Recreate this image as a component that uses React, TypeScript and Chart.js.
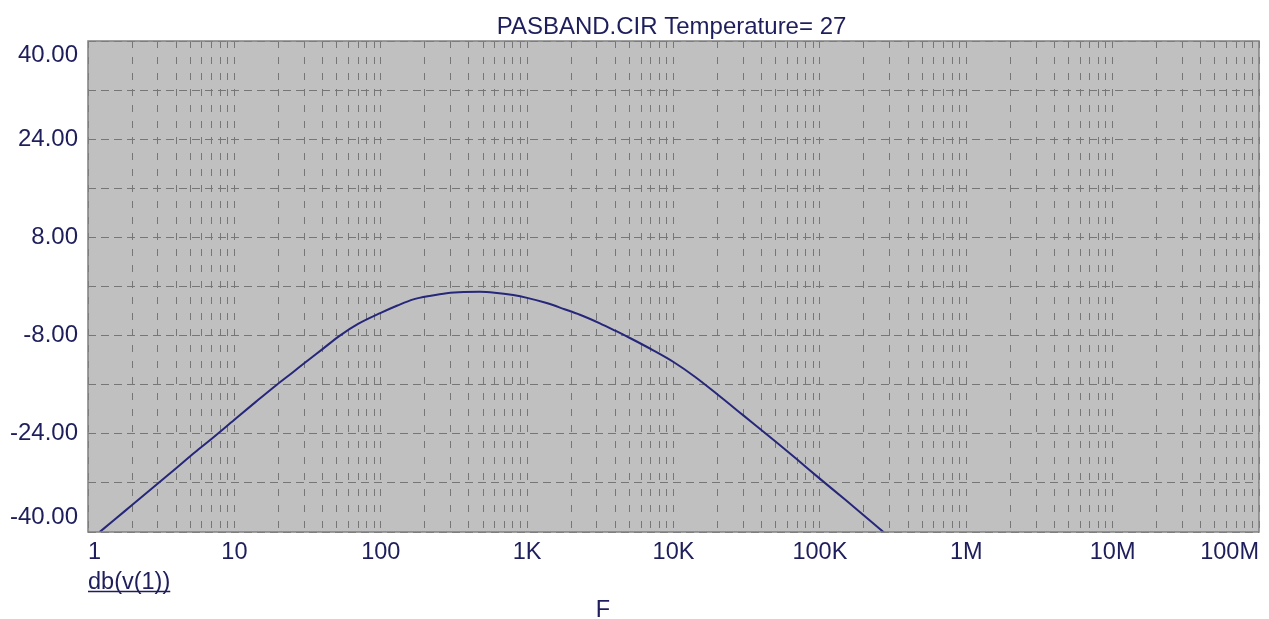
import React, { useEffect, useRef } from 'react';
import { Chart, registerables } from 'chart.js';

Chart.register(...registerables);

// ---- data (frequency in Hz, gain in dB) ----
const freqHz = [
  1.2, 1.5, 2, 3, 4, 5.38, 7, 10, 14, 19.5, 25, 30, 40, 52.6, 70, 100, 130, 167, 220, 282, 370, 476, 600, 804,
  1000, 1359, 1800, 2294, 3142, 4000, 5000, 7266, 10000, 14000, 20000, 30000, 50000, 70000, 97500, 150000,
  200000, 257000, 290000,
];
const gainDb = [
  -40.0, -38.1, -35.6, -32.1, -29.6, -27.0, -24.8, -21.7, -18.8, -16.0, -14.0, -12.5, -10.2, -8.0, -6.1, -4.3,
  -3.1, -2.1, -1.5, -1.1, -0.9, -0.85, -1.0, -1.4, -1.85, -2.7, -3.7, -4.6, -6.0, -7.2, -8.35, -10.4, -12.3,
  -14.7, -17.6, -21.0, -25.3, -28.2, -31.1, -34.8, -37.3, -39.5, -40.6,
];

const xDecades = [1, 10, 100, 1e3, 1e4, 1e5, 1e6, 1e7, 1e8];
const xDecadeLabels = ['1', '10', '100', '1K', '10K', '100K', '1M', '10M', '100M'];
const yMin = -40;
const yMax = 40;
const yGridStep = 8;
const yLabelStep = 16;

const titleText = 'PASBAND.CIR Temperature= 27';
const traceLabel = 'db(v(1))';
const xAxisName = 'F';

// ---- styles ----
const TEXT = '#1e1e5c';
const GRID = '#767676';
const PLOT_BG = '#c0c0c0';
const FRAME = '#808080';
const TRACE = '#26267a';
const FONT = '"Liberation Sans", Arial, sans-serif';

function buildXTicks(): number[] {
  const out: number[] = [1];
  for (let d = 0; d < xDecades.length - 1; d++) {
    for (let m = 2; m <= 10; m++) out.push(m * xDecades[d]);
  }
  return out;
}

const decorPlugin = {
  id: 'decor',
  beforeDraw(chart: any) {
    const { ctx, chartArea: a } = chart;
    ctx.save();
    ctx.fillStyle = '#ffffff';
    ctx.fillRect(0, 0, chart.width, chart.height);
    ctx.fillStyle = PLOT_BG;
    ctx.fillRect(a.left, a.top, a.right - a.left, a.bottom - a.top);
    ctx.restore();
  },
  afterDraw(chart: any) {
    const { ctx, chartArea: a } = chart;
    ctx.save();
    ctx.strokeStyle = FRAME;
    ctx.lineWidth = 1.5;
    ctx.strokeRect(a.left, a.top, a.right - a.left, a.bottom - a.top);

    ctx.fillStyle = TEXT;
    ctx.font = `24px ${FONT}`;
    ctx.textAlign = 'center';
    ctx.textBaseline = 'alphabetic';
    ctx.fillText(titleText, (a.left + a.right) / 2 - 2, 33.5);

    ctx.font = `23.5px ${FONT}`;
    ctx.textAlign = 'left';
    ctx.fillText(traceLabel, a.left, 589);
    const w = ctx.measureText(traceLabel).width;
    ctx.strokeStyle = TEXT;
    ctx.lineWidth = 1.5;
    ctx.beginPath();
    ctx.moveTo(a.left, 591.5);
    ctx.lineTo(a.left + w, 591.5);
    ctx.stroke();

    ctx.textAlign = 'center';
    ctx.fillText(xAxisName, 603, 617);
    ctx.restore();
  },
};

export default function App() {
  const ref = useRef<HTMLCanvasElement | null>(null);

  useEffect(() => {
    if (!ref.current) return;
    const xTicks = buildXTicks();
    const chart = new Chart(ref.current, {
      type: 'line',
      data: {
        datasets: [
          {
            data: freqHz.map((f, i) => ({ x: f, y: gainDb[i] })),
            borderColor: TRACE,
            borderWidth: 2,
            pointRadius: 0,
            cubicInterpolationMode: 'monotone',
            fill: false,
          },
        ],
      },
      options: {
        animation: false,
        responsive: false,
        layout: { padding: { top: 41, right: 10, left: 0, bottom: 0 } },
        plugins: { legend: { display: false }, title: { display: false }, tooltip: { enabled: false } },
        scales: {
          x: {
            type: 'logarithmic',
            min: 1,
            max: 1e8,
            afterBuildTicks: (scale: any) => {
              scale.ticks = xTicks.map((v) => ({ value: v }));
            },
            afterFit: (scale: any) => {
              scale.height = 87;
            },
            grid: { color: GRID, lineWidth: 1, drawTicks: false },
            border: { display: false, dash: [7, 9] },
            ticks: {
              autoSkip: false,
              maxRotation: 0,
              minRotation: 0,
              align: 'inner',
              padding: 6,
              color: TEXT,
              font: { family: FONT, size: 23.5 },
              callback: (v: any) => {
                const idx = xDecades.findIndex((d) => Math.abs(d - Number(v)) < 1e-6 * d);
                return idx >= 0 ? xDecadeLabels[idx] : '';
              },
            },
          },
          y: {
            type: 'linear',
            min: yMin,
            max: yMax,
            afterFit: (scale: any) => {
              scale.width = 88;
            },
            grid: { color: GRID, lineWidth: 1, drawTicks: false },
            border: { display: false, dash: [8, 5] },
            ticks: {
              stepSize: yGridStep,
              autoSkip: false,
              padding: 10,
              color: TEXT,
              font: { family: FONT, size: 24 },
              callback: (v: any) => {
                const n = Number(v);
                if (Math.round(yMax - n) % yLabelStep !== 0) return '';
                const s = n.toFixed(2);
                if (n === yMax) return ['', s];
                if (n === yMin) return [s, ''];
                return s;
              },
            },
          },
        },
      } as any,
      plugins: [decorPlugin],
    });
    return () => chart.destroy();
  }, []);

  return (
    <div style={{ position: 'fixed', left: 0, top: 0, width: 1269, height: 619, background: '#fff' }}>
      <canvas ref={ref} width={1269} height={619} />
    </div>
  );
}
